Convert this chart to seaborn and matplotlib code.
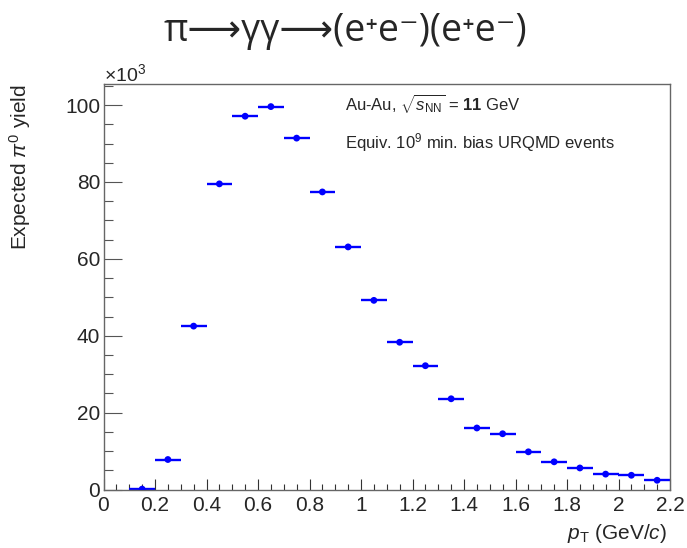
import matplotlib
matplotlib.use("Agg")
import matplotlib.pyplot as plt
import numpy as np
import pandas as pd
import seaborn as sns
from matplotlib.ticker import MultipleLocator

# ---- data ----
pt_center = [0.15, 0.25, 0.35, 0.45, 0.55, 0.65, 0.75, 0.85, 0.95, 1.05, 1.15,
             1.25, 1.35, 1.45, 1.55, 1.65, 1.75, 1.85, 1.95, 2.05, 2.15]
yield_k = [0.1, 7.8, 42.5, 79.5, 97.1, 99.6, 91.4, 77.4, 63.1, 49.2, 38.3,
           32.2, 23.6, 16.0, 14.5, 9.8, 7.2, 5.6, 4.0, 3.7, 2.4]
bin_width = 0.1
x_ticks = [0, 0.2, 0.4, 0.6, 0.8, 1, 1.2, 1.4, 1.6, 1.8, 2, 2.2]
x_ticklabels = ["0", "0.2", "0.4", "0.6", "0.8", "1", "1.2", "1.4", "1.6", "1.8", "2", "2.2"]
y_ticks = [0, 20, 40, 60, 80, 100]

title_text = "π⟶γγ⟶(e⁺e⁻)(e⁺e⁻)"
info_line1 = r"Au-Au, $\sqrt{s_{\rm NN}}$ = $\mathbf{11}$ GeV"
info_line2 = r"Equiv. 10$^{9}$ min. bias URQMD events"

df = pd.DataFrame({"pt": pt_center, "yield": yield_k})

sns.set_theme(style="white")
plt.rcParams['font.family'] = ['Liberation Sans', 'DejaVu Sans']
plt.rcParams['mathtext.fontset'] = 'custom'
plt.rcParams['mathtext.rm'] = 'Liberation Sans'
plt.rcParams['mathtext.it'] = 'Liberation Sans:italic'
plt.rcParams['mathtext.bf'] = 'Liberation Sans:bold'
plt.rcParams['mathtext.sf'] = 'Liberation Sans'

W, H = 687, 548
fig = plt.figure(figsize=(W / 100, H / 100), dpi=100)
fig.patch.set_facecolor("white")
left, right, bottom, top = 103.5, 670.0, 489.5, 84.3
ax = fig.add_axes([left / W, 1 - bottom / H, (right - left) / W, (bottom - top) / H])
ax.set_facecolor("white")

blue = "#0000ff"
ax.errorbar(df["pt"], df["yield"], xerr=bin_width / 2, fmt="none",
            ecolor=blue, elinewidth=1.7, capsize=0, zorder=2)
sns.scatterplot(data=df, x="pt", y="yield", ax=ax, color=blue, s=24,
                edgecolor="none", linewidth=0, zorder=3, legend=False)

ax.set_xlim(0, 2.2)
ax.set_ylim(0, 105.4)
ax.set_xticks(x_ticks)
ax.set_xticklabels(x_ticklabels)
ax.set_yticks(y_ticks)
ax.xaxis.set_minor_locator(MultipleLocator(0.05))
ax.yaxis.set_minor_locator(MultipleLocator(5))

for s in ax.spines.values():
    s.set_color("#666666")
    s.set_linewidth(1.0)
    s.set_visible(True)

ax.tick_params(axis="x", which="major", direction="in", length=8, width=0.8,
               color="#333333", labelsize=15, pad=5, bottom=True, top=False)
ax.tick_params(axis="x", which="minor", direction="in", length=4.3, width=0.8,
               color="#333333", bottom=True, top=False)
ax.tick_params(axis="y", which="major", direction="in", length=13, width=0.8,
               color="#555555", labelsize=15, pad=2.5, left=True, right=False)
ax.tick_params(axis="y", which="minor", direction="in", length=6.5, width=0.8,
               color="#555555", left=True, right=False)

ax.set_xlabel(r"$p_{\rm T}$ (GeV/$c$)", fontsize=15, loc="right")
ax.xaxis.set_label_coords(0.995, (bottom - 522) / (bottom - top))
ax.set_ylabel(r"Expected $\pi^{0}$ yield", fontsize=15, loc="top")
ax.yaxis.set_label_coords((33 - left) / (right - left), 1.0)

fig.text(104 / W, 1 - 81 / H, r"$\times$10$^{3}$", fontsize=14, va="baseline", ha="left")

fig.text(345 / W, 1 - 103 / H, info_line1, fontsize=12, va="center", ha="left")
fig.text(345 / W, 1 - 143 / H, info_line2, fontsize=12, va="center", ha="left")

fig.text(345 / W, 1 - 31 / H, title_text, fontsize=27, va="center", ha="center",
         family=["Open Sans", "DejaVu Sans"])

fig.savefig("out.png", dpi=100, facecolor="white")
